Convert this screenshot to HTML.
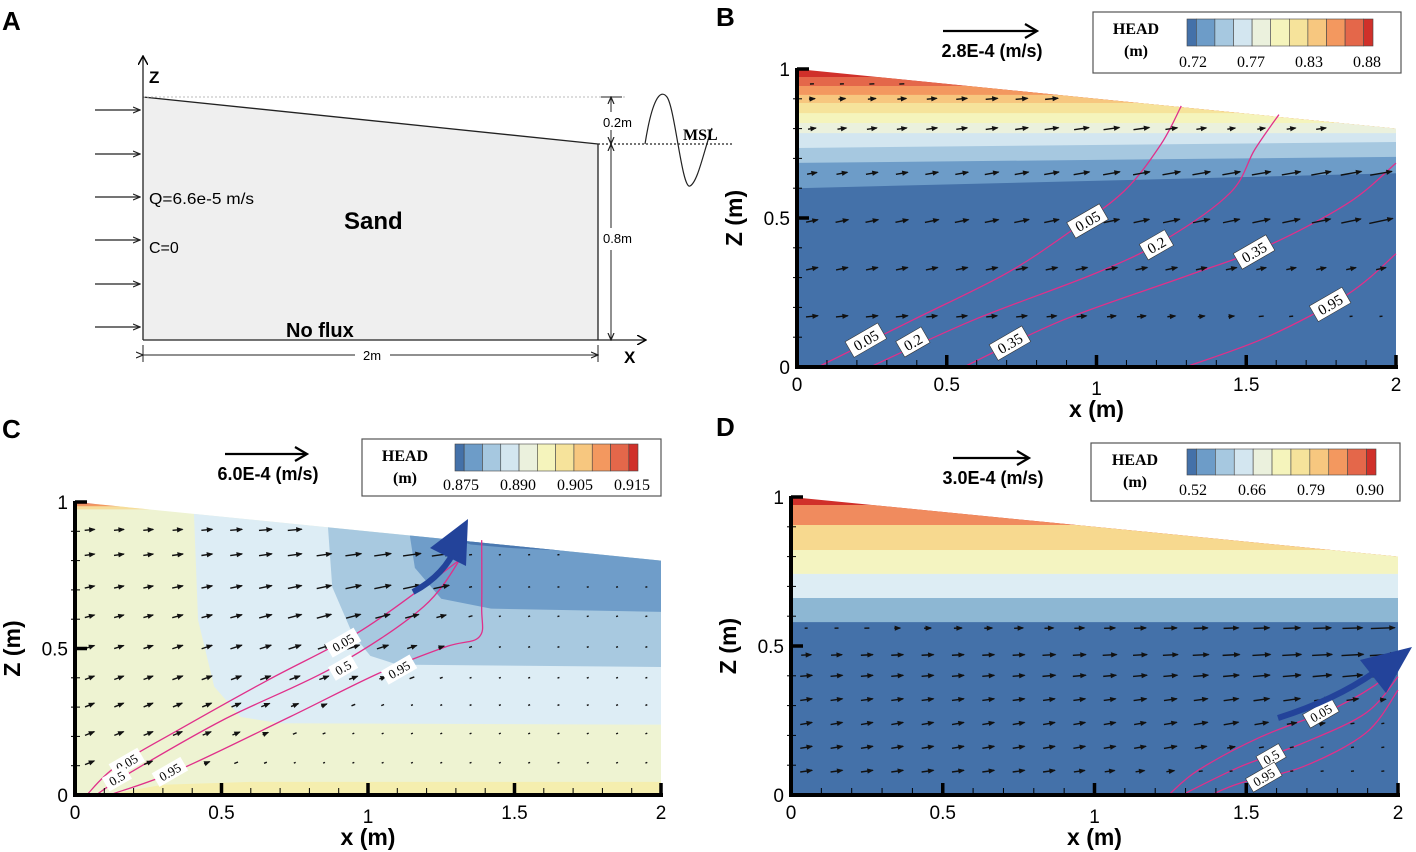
<!DOCTYPE html>
<html><head><meta charset="utf-8">
<style>
html,body{margin:0;padding:0;background:#fff;}
svg{display:block;}
text{font-family:"Liberation Sans",sans-serif;}
.serif{font-family:"Liberation Serif",serif;}
</style></head>
<body>
<svg id="fig" width="1416" height="852" viewBox="0 0 1416 852" xmlns="http://www.w3.org/2000/svg">
<defs>
<marker id="ah" markerWidth="10" markerHeight="10" refX="9" refY="5" orient="auto" markerUnits="userSpaceOnUse"><path d="M0,0 L9,5 L0,10" fill="none" stroke="#000" stroke-width="1.5"/></marker>
<marker id="ahs" markerWidth="8" markerHeight="8" refX="7" refY="4" orient="auto" markerUnits="userSpaceOnUse"><path d="M0,1 L7,4 L0,7" fill="none" stroke="#222" stroke-width="1.2"/></marker>
</defs>

<text x="2" y="30" font-size="26" font-weight="bold">A</text>
<text x="716" y="26" font-size="26" font-weight="bold">B</text>
<text x="2" y="438" font-size="26" font-weight="bold">C</text>
<text x="716" y="436" font-size="26" font-weight="bold">D</text>

<g>
  <polygon points="143,97 598,144 598,340 143,340" fill="#efefef"/>
  <line x1="143" y1="97" x2="598" y2="144" stroke="#222" stroke-width="1.3"/>
  <line x1="143" y1="97" x2="625" y2="97" stroke="#bbb" stroke-width="1" stroke-dasharray="2,2"/>
  <line x1="143" y1="340" x2="143" y2="56" stroke="#222" stroke-width="1.3" marker-end="url(#ah)"/>
  <text x="149" y="83" font-size="17" font-weight="bold">Z</text>
  <line x1="143" y1="340" x2="646" y2="340" stroke="#222" stroke-width="1.3" marker-end="url(#ah)"/>
  <line x1="598" y1="144" x2="598" y2="340" stroke="#222" stroke-width="1.3"/>
  <text x="624" y="363" font-size="17" font-weight="bold">X</text>
  <line x1="598" y1="144" x2="732" y2="144" stroke="#222" stroke-width="1.3" stroke-dasharray="2,2"/>
  <path d="M645,144 C652,100 660,88 667,97 C675,108 682,190 690,186 C698,182 704,150 712,128" fill="none" stroke="#222" stroke-width="1.2"/>
  <text x="683" y="140" font-size="16" font-weight="bold" class="serif">MSL</text>
  <g stroke="#222" stroke-width="1" fill="none">
    <line x1="143" y1="355" x2="355" y2="355" marker-start="url(#ahs)"/>
    <line x1="390" y1="355" x2="598" y2="355" marker-end="url(#ahs)"/>
    <line x1="143" y1="345" x2="143" y2="362"/><line x1="598" y1="345" x2="598" y2="362"/>
    <line x1="611" y1="112" x2="611" y2="97" marker-end="url(#ahs)"/>
    <line x1="611" y1="130" x2="611" y2="144" marker-end="url(#ahs)"/>
    <line x1="611" y1="160" x2="611" y2="144" marker-end="url(#ahs)"/>
    <line x1="611" y1="250" x2="611" y2="340" marker-end="url(#ahs)"/>
    <line x1="611" y1="144" x2="611" y2="228"/>
    <line x1="601" y1="97" x2="622" y2="97"/>
  </g>
  <text x="372" y="360" font-size="13" text-anchor="middle">2m</text>
  <text x="603" y="127" font-size="13">0.2m</text>
  <text x="603" y="243" font-size="13">0.8m</text>
  <g stroke="#222" stroke-width="1.2">
    <line x1="95" y1="110" x2="140" y2="110" marker-end="url(#ahs)"/>
    <line x1="95" y1="154" x2="140" y2="154" marker-end="url(#ahs)"/>
    <line x1="95" y1="197" x2="140" y2="197" marker-end="url(#ahs)"/>
    <line x1="95" y1="240" x2="140" y2="240" marker-end="url(#ahs)"/>
    <line x1="95" y1="284" x2="140" y2="284" marker-end="url(#ahs)"/>
    <line x1="95" y1="327" x2="140" y2="327" marker-end="url(#ahs)"/>
  </g>
  <text x="149" y="204" font-size="16" textLength="105" lengthAdjust="spacingAndGlyphs">Q=6.6e-5 m/s</text>
  <text x="149" y="253" font-size="16">C=0</text>
  <text x="344" y="229" font-size="24" font-weight="bold">Sand</text>
  <text x="286" y="337" font-size="20" font-weight="bold">No flux</text>
</g>

<g id="pB"></g>
<g id="pC"></g>
<g id="pD"></g>
</svg>

<script>
const colsX = [0.05,0.15,0.25,0.35,0.45,0.55,0.65,0.75,0.85,0.95,1.05,1.15,1.25,1.35,1.45,1.55,1.65,1.75,1.85,1.95];
const xTicks = [0,0.5,1,1.5,2];
const xTickLabels = ["0","0.5","1","1.5","2"];
const zTicks = [0,0.5,1];
const zTickLabels = ["0","0.5","1"];
const palette = ["#4471a9","#6d9cc8","#a6c8e0","#d3e6f0","#ebf1dd","#f5f4bc","#f6e39b","#f7c77f","#f3985f","#e4674a","#d0302a"];

const bLegendLabels = ["0.72","0.77","0.83","0.88"];
const bBandColors = ["#d0302a","#e4674a","#f3985f","#f7c77f","#f6e39b","#f5f4bc","#ebf1dd","#d3e6f0","#a6c8e0","#6d9cc8","#4471a9"];
const bBandTopLeft  = [1.2,0.973,0.943,0.913,0.886,0.852,0.819,0.785,0.735,0.685,0.60];
const bBandTopRight = [1.2,0.973,0.943,0.913,0.886,0.852,0.819,0.785,0.755,0.705,0.65];
const bC005x = [0.07,0.387,0.70,0.917,1.093,1.215,1.283];
const bC005z = [0,0.158,0.315,0.458,0.591,0.747,0.876];
const bC02x = [0.244,0.59,0.998,1.229,1.446,1.528,1.609];
const bC02z = [0,0.158,0.315,0.427,0.584,0.729,0.847];
const bC035x = [0.557,0.889,1.297,1.568,1.84,2.0];
const bC035z = [0,0.158,0.304,0.405,0.55,0.684];
const bC095x = [1.297,1.568,1.84,2.0];
const bC095z = [0,0.10,0.245,0.38];
const bLabelText = ["0.05","0.2","0.35","0.05","0.2","0.35","0.95"];
const bLabelX = [0.23,0.387,0.711,0.97,1.2,1.526,1.78];
const bLabelZ = [0.09,0.084,0.08,0.49,0.41,0.386,0.21];
const bRowsZ = [0.95,0.90,0.80,0.65,0.49,0.33,0.17];
const bRowAng = [-3,-5,-8,-10,-12,-12,-6];
const bLen = [
 [4,4,5,5,5,5,5,5,5,5,5,5,5,5,5,5,5,5,5,5],
 [6,7,8,9,10,11,12,12,13,14,14,14,14,14,14,14,14,14,14,14],
 [8,9,10,10,11,11,12,13,14,15,16,16,12,10,8,8,9,10,11,12],
 [10,11,12,12,13,13,14,14,15,16,17,17,18,18,18,19,19,20,21,22],
 [12,13,13,13,14,14,14,15,15,15,16,16,17,17,17,18,18,19,20,24],
 [12,12,12,12,12,12,12,12,12,12,12,12,12,11,11,10,10,10,10,10],
 [12,12,12,12,11,11,11,11,10,10,9,9,8,7,6,5,4,3,3,3]
];

const cLegendLabels = ["0.875","0.890","0.905","0.915"];
const cLightX = [0.40,0.406,0.42,0.475,0.566,0.7,2,2];
const cLightZ = [1.1,0.96,0.597,0.37,0.266,0.245,0.24,1.1];
const cMedX = [0.86,0.863,0.878,0.947,1.008,1.1,2,2];
const cMedZ = [1.1,0.92,0.71,0.55,0.475,0.445,0.437,1.1];
const cDarkX = [1.14,1.142,1.16,1.25,1.42,2,2];
const cDarkZ = [1.1,0.89,0.775,0.67,0.636,0.625,1.1];
const cDeepX = [1.3,1.35,1.5,1.75,1.75];
const cDeepZ = [0.872,0.855,0.842,0.83,1.1];
const cC005x = [0.04,0.14,0.353,0.658,0.962,1.19,1.312];
const cC005z = [0,0.097,0.222,0.392,0.552,0.711,0.802];
const cC05x = [0.072,0.186,0.505,0.886,1.19,1.327];
const cC05z = [0,0.075,0.256,0.438,0.643,0.825];
const cC095x = [0.117,0.353,0.734,1.038,1.266,1.38,1.388,1.388];
const cC095z = [0,0.085,0.267,0.416,0.506,0.54,0.643,0.87];
const cLabelText = ["0.05","0.5","0.95","0.05","0.5","0.95"];
const cLabelX = [0.915,0.915,1.106,0.177,0.143,0.324];
const cLabelZ = [0.52,0.435,0.428,0.11,0.057,0.079];
const cRowsZ = [0.905,0.82,0.71,0.61,0.505,0.40,0.307,0.21,0.11];
const cRowAng = [-5,-8,-12,-15,-18,-20,-22,-22,-22];
const cLen = [
 [10,10,10,10,11,12,13,14,15,16,17,18,19,3,2,2,2,2,2,2],
 [10,10,10,11,11,12,13,14,15,16,17,18,19,3,2,2,2,2,2,2],
 [10,10,10,11,11,12,13,14,15,16,17,18,16,3,2,2,2,2,2,2],
 [10,10,10,11,11,12,13,14,15,15,15,14,10,4,2,2,2,2,2,2],
 [10,10,10,11,11,12,12,13,13,13,12,10,6,3,2,2,2,2,2,2],
 [10,10,10,11,11,11,11,11,10,9,7,5,3,2,2,2,2,2,2,2],
 [10,10,10,10,10,10,9,8,6,4,3,2,2,2,2,2,2,2,2,2],
 [10,10,10,10,9,8,6,4,3,2,2,2,2,2,2,2,2,2,2,2],
 [10,9,9,8,6,4,3,2,2,2,2,2,2,2,2,2,2,2,2,2]
];

const dLegendLabels = ["0.52","0.66","0.79","0.90"];
const dBandColors = ["#d0302a","#f08b5e","#f7d98f","#f4f4c1","#ddedf4","#8db7d3","#4471a9"];
const dBandTop = [1.2,0.973,0.906,0.822,0.742,0.661,0.58];
const dC005x = [1.244,1.343,1.55,1.8,1.963,2.0];
const dC005z = [0,0.084,0.196,0.296,0.397,0.453];
const dC05x = [1.288,1.48,1.687,1.894,2.0];
const dC05z = [0,0.095,0.174,0.275,0.397];
const dC095x = [1.384,1.48,1.687,1.894,2.0];
const dC095z = [0,0.04,0.095,0.208,0.352];
const dLabelText = ["0.05","0.5","0.95"];
const dLabelX = [1.746,1.582,1.558];
const dLabelZ = [0.275,0.128,0.06];
const dRowsZ = [0.56,0.47,0.40,0.32,0.24,0.16,0.08];
const dRowAng = [-2,-3,-5,-8,-10,-10,-8];
const dLen = [
 [3,4,5,6,7,8,8,9,9,10,11,12,13,14,15,16,17,18,20,24],
 [10,11,12,12,12,12,12,12,13,13,14,14,15,16,17,18,19,20,22,26],
 [12,12,12,12,12,12,12,12,13,13,13,14,14,15,16,17,18,19,20,26],
 [12,12,12,12,12,12,12,12,12,12,12,13,13,14,15,16,17,16,12,6],
 [12,12,12,12,12,12,12,12,12,12,12,12,13,14,15,14,10,6,4,3],
 [12,12,12,12,12,12,12,12,12,12,12,12,13,12,8,5,4,3,3,3],
 [12,12,12,12,12,12,12,12,12,11,10,9,8,4,3,3,3,3,3,3]
];

const NS = "http://www.w3.org/2000/svg";
function mk(tag, attrs, parent){
  const e = document.createElementNS(NS, tag);
  for (const k in attrs) e.setAttribute(k, attrs[k]);
  parent.appendChild(e);
  return e;
}
function surf(x){ return 1 - 0.1*x; }

function panel(gid, ax){
  const g = document.getElementById(gid);
  const X = x => ax.x0 + x*ax.sx;
  const Y = z => ax.y0 - z*ax.sz;
  const cp = mk("clipPath", {id: gid+"clip"}, g);
  mk("polygon", {points: `${X(0)},${Y(0)} ${X(2)},${Y(0)} ${X(2)},${Y(0.8)} ${X(0)},${Y(1)}`}, cp);
  const field = mk("g", {"clip-path": `url(#${gid}clip)`}, g);
  
  
  return {g, X, Y, field};
}
function polyXZ(P, xs, zs, fill, name){
  const pts = xs.map((x,i)=>`${P.X(x)},${P.Y(zs[i])}`).join(" ");
  const e = mk("polygon", {points: pts, fill: fill}, P.field);
  
  
}
function bands(P, colors, topL, topR, name){
  colors.forEach((c,i)=>{
    const pts = `${P.X(0)},${P.Y(topL[i])} ${P.X(2)},${P.Y(topR[i])} ${P.X(2)},${P.Y(0)} ${P.X(0)},${P.Y(0)}`;
    const e = mk("polygon", {points: pts, fill: c}, P.field);
    
    
  });
}
function arrows(P, rowsZ, rowAng, lens){
  const ag = mk("g", {stroke:"#111", fill:"#111"}, P.g);
  
  
  rowsZ.forEach((z,r)=>{
    colsX.forEach((x,c)=>{
      if (z > surf(x) - 0.015) return;
      const L = lens[r][c];
      const a = rowAng[r]*Math.PI/180;
      const x1 = P.X(x) - L/2*Math.cos(a), y1 = P.Y(z) - L/2*Math.sin(a);
      const x2 = P.X(x) + L/2*Math.cos(a), y2 = P.Y(z) + L/2*Math.sin(a);
      const ln = mk("line", {x1, y1, x2, y2, "stroke-width": 1.4}, ag);
      
      
      if (L > 5){
        const h = 5.5, w = 2.6;
        const bx = x2 - h*Math.cos(a), by = y2 - h*Math.sin(a);
        const px = -Math.sin(a)*w, py = Math.cos(a)*w;
        const hd = mk("polygon", {points:`${x2+Math.cos(a)},${y2+Math.sin(a)} ${bx+px},${by+py} ${bx-px},${by-py}`, stroke:"none"}, ag);
        
        
      }
    });
  });
}
function contour(P, xs, zs, name){
  const pts = xs.map((x,i)=>[P.X(x), P.Y(zs[i])]);
  let d = "M" + pts[0][0] + "," + pts[0][1];
  for (let i=0;i<pts.length-1;i++){
    const p0 = pts[Math.max(0,i-1)], p1 = pts[i], p2 = pts[i+1], p3 = pts[Math.min(pts.length-1,i+2)];
    const c1 = [p1[0]+(p2[0]-p0[0])/6, p1[1]+(p2[1]-p0[1])/6];
    const c2 = [p2[0]-(p3[0]-p1[0])/6, p2[1]-(p3[1]-p1[1])/6];
    d += ` C${c1[0]},${c1[1]} ${c2[0]},${c2[1]} ${p2[0]},${p2[1]}`;
  }
  const e = mk("path", {d, fill:"none", stroke:"#e0308a", "stroke-width":1.3, "stroke-linejoin":"round"}, P.g);
  
  
}
function clabels(P, texts, xs, zs, size, boxed){
  texts.forEach((t,i)=>{
    const cx = P.X(xs[i]), cy = P.Y(zs[i]);
    const lg = mk("g", {transform:`translate(${cx},${cy}) rotate(-30)`}, P.g);
    
    
    const w = t.length*size*0.56 + 4;
    mk("rect", {x:-w/2, y:-size*0.6, width:w, height:size*1.2, fill:"#fff", stroke: boxed?"#333":"none", "stroke-width":0.6}, lg);
    const tx = mk("text", {x:0, y:size*0.36, "font-size":size, "text-anchor":"middle", class:"serif"}, lg);
    tx.textContent = t;
  });
}
function axes(P, ax){
  const g = mk("g", {}, P.g);
  
  
  const X = P.X, Y = P.Y;
  for (let i=0;i<=20;i++){
    const x = i*0.1;
    if (i%5) mk("line",{x1:X(x),y1:Y(0),x2:X(x),y2:Y(0)-7,stroke:"#000","stroke-width":1},g);
  }
  for (let i=0;i<=10;i++){
    const z = i*0.1;
    if (i%5) mk("line",{x1:X(0)-4,y1:Y(z),x2:X(0)+5,y2:Y(z),stroke:"#000","stroke-width":1},g);
  }
  xTicks.forEach(x=>mk("line",{x1:X(x),y1:Y(0),x2:X(x),y2:Y(0)-12,stroke:"#000","stroke-width":3.5},g));
  zTicks.forEach(z=>mk("line",{x1:X(0),y1:Y(z),x2:X(0)+12,y2:Y(z),stroke:"#000","stroke-width":3.5},g));
  mk("line",{x1:X(0),y1:Y(0)+2,x2:X(0),y2:Y(1)-1,stroke:"#000","stroke-width":4},g);
  mk("line",{x1:X(0)-2,y1:Y(0),x2:X(2)+2,y2:Y(0),stroke:"#000","stroke-width":4},g);
  xTicks.forEach((x,i)=>{
    const t = mk("text",{x:X(x),y:Y(0)+(x===1?28:24),"font-size":19,"text-anchor":"middle"},g);
    
    
    t.textContent = xTickLabels[i];
  });
  zTicks.forEach((z,i)=>{
    const t = mk("text",{x:X(0)-7,y:Y(z)+7,"font-size":19,"text-anchor":"end"},g);
    
    
    t.textContent = zTickLabels[i];
  });
  const xt = mk("text",{x:X(1),y:Y(0)+50,"font-size":23,"font-weight":"bold","text-anchor":"middle"},g);
  
  
  xt.textContent = "x (m)";
  const zt = mk("text",{x:0,y:0,"font-size":23,"font-weight":"bold","text-anchor":"middle",transform:`translate(${ax.ztx},${Y(0.5)}) rotate(-90)`},g);
  
  
  zt.textContent = "Z (m)";
}
function legend(P, L, labels){
  const g = mk("g", {}, P.g);
  
  
  mk("rect",{x:L.bx,y:L.by,width:L.bw,height:L.bh,fill:"#fff",stroke:"#555","stroke-width":1.2},g);
  const h = mk("text",{x:L.hx,y:L.by+22,"font-size":16,"font-weight":"bold","text-anchor":"middle",class:"serif"},g);
  h.textContent = "HEAD";
  const m = mk("text",{x:L.hx,y:L.by+44,"font-size":16,"font-weight":"bold","text-anchor":"middle",class:"serif"},g);
  m.textContent = "(m)";
  const widths = [0.5,1,1,1,1,1,1,1,1,1,0.5];
  const tot = widths.reduce((a,b)=>a+b,0);
  let cx = L.cx0;
  widths.forEach((w,i)=>{
    const ww = w/tot*(L.cx1-L.cx0);
    const r = mk("rect",{x:cx,y:L.cy,width:ww,height:L.ch,fill:palette[i],stroke:"#444","stroke-width":0.6},g);
    
    
    cx += ww;
  });
  labels.forEach((t,i)=>{
    const x = L.cx0 + 6 + i*(L.cx1-L.cx0-12)/3;
    const tx = mk("text",{x:x,y:L.ly,"font-size":16,"text-anchor":"middle",class:"serif"},g);
    
    
    tx.textContent = t;
  });
}
function scaleArrow(P, x1, x2, y, label){
  const g = mk("g", {}, P.g);
  
  
  mk("line",{x1,y1:y,x2:x2-2,y2:y,stroke:"#000","stroke-width":2.2},g);
  mk("path",{d:`M${x2-12},${y-7} L${x2},${y} L${x2-12},${y+7}`,fill:"none",stroke:"#000","stroke-width":2.2},g);
  const t = mk("text",{x:(x1+x2)/2+2,y:y+26,"font-size":18,"font-weight":"bold","text-anchor":"middle"},g);
  t.textContent = label;
}
function bigArrow(P, d, head){
  const g = mk("g", {}, P.g);
  
  
  mk("path",{d, fill:"none", stroke:"#23439a","stroke-width":6,"stroke-linecap":"butt"},g);
  mk("polygon",{points:head, fill:"#23439a"},g);
}

const PB = panel("pB", {x0:797, sx:299.5, y0:367, sz:298});
bands(PB, bBandColors, bBandTopLeft, bBandTopRight, "head-band");
contour(PB, bC005x, bC005z, "contour-0.05");
contour(PB, bC02x, bC02z, "contour-0.2");
contour(PB, bC035x, bC035z, "contour-0.35");
contour(PB, bC095x, bC095z, "contour-0.95");
arrows(PB, bRowsZ, bRowAng, bLen);
clabels(PB, bLabelText, bLabelX, bLabelZ, 15, true);
axes(PB, {ztx:742});
legend(PB, {bx:1093,by:12,bw:308,bh:61,hx:1136,cx0:1187,cx1:1373,cy:19,ch:27,ly:67}, bLegendLabels);
scaleArrow(PB, 943, 1037, 31, "2.8E-4 (m/s)");

const PC = panel("pC", {x0:75, sx:293, y0:795, sz:293});
polyXZ(PC, [0,2,2,0], [0,0,1.1,1.1], "#eef3d2", "head-region-0.895");
polyXZ(PC, [0,2,2,0], [0.992,0.992,1.1,1.1], "#e4674a", "head-band-top");
polyXZ(PC, [0,2,2,0], [0.985,0.985,0.992,0.992], "#f3985f", "head-band-top");
polyXZ(PC, [0,2,2,0], [0.975,0.975,0.985,0.985], "#f6dd9a", "head-band-top");
polyXZ(PC, [0.1,0.3,0.6,2,2,0.1], [0,0.035,0.045,0.045,0,0], "#f5eeae", "head-region-bottom");
polyXZ(PC, cLightX, cLightZ, "#ddedf5", "head-region-0.890");
polyXZ(PC, cMedX, cMedZ, "#a8c9e0", "head-region-0.885");
polyXZ(PC, cDarkX, cDarkZ, "#6f9dc9", "head-region-0.880");
polyXZ(PC, cDeepX, cDeepZ, "#4a78b0", "head-region-0.875");
contour(PC, cC005x, cC005z, "contour-0.05");
contour(PC, cC05x, cC05z, "contour-0.5");
contour(PC, cC095x, cC095z, "contour-0.95");
arrows(PC, cRowsZ, cRowAng, cLen);
clabels(PC, cLabelText, cLabelX, cLabelZ, 13, false);
bigArrow(PC, "M413,592 Q445,575 457,545", "468,519 430,548 466,566");
axes(PC, {ztx:20});
legend(PC, {bx:362,by:439,bw:299,bh:57,hx:405,cx0:455,cx1:638,cy:444,ch:27,ly:490}, cLegendLabels);
scaleArrow(PC, 225, 307, 454, "6.0E-4 (m/s)");

const PD = panel("pD", {x0:791, sx:303.5, y0:795, sz:298});
bands(PD, dBandColors, dBandTop, dBandTop, "head-band");
contour(PD, dC005x, dC005z, "contour-0.05");
contour(PD, dC05x, dC05z, "contour-0.5");
contour(PD, dC095x, dC095z, "contour-0.95");
arrows(PD, dRowsZ, dRowAng, dLen);
clabels(PD, dLabelText, dLabelX, dLabelZ, 13, true);
bigArrow(PD, "M1278,718 Q1335,700 1375,672", "1412,647 1360,660 1386,693");
axes(PD, {ztx:736});
legend(PD, {bx:1091,by:443,bw:309,bh:58,hx:1135,cx0:1187,cx1:1376,cy:449,ch:26,ly:495}, dLegendLabels);
scaleArrow(PD, 953, 1029, 458, "3.0E-4 (m/s)");
</script>
</body></html>
